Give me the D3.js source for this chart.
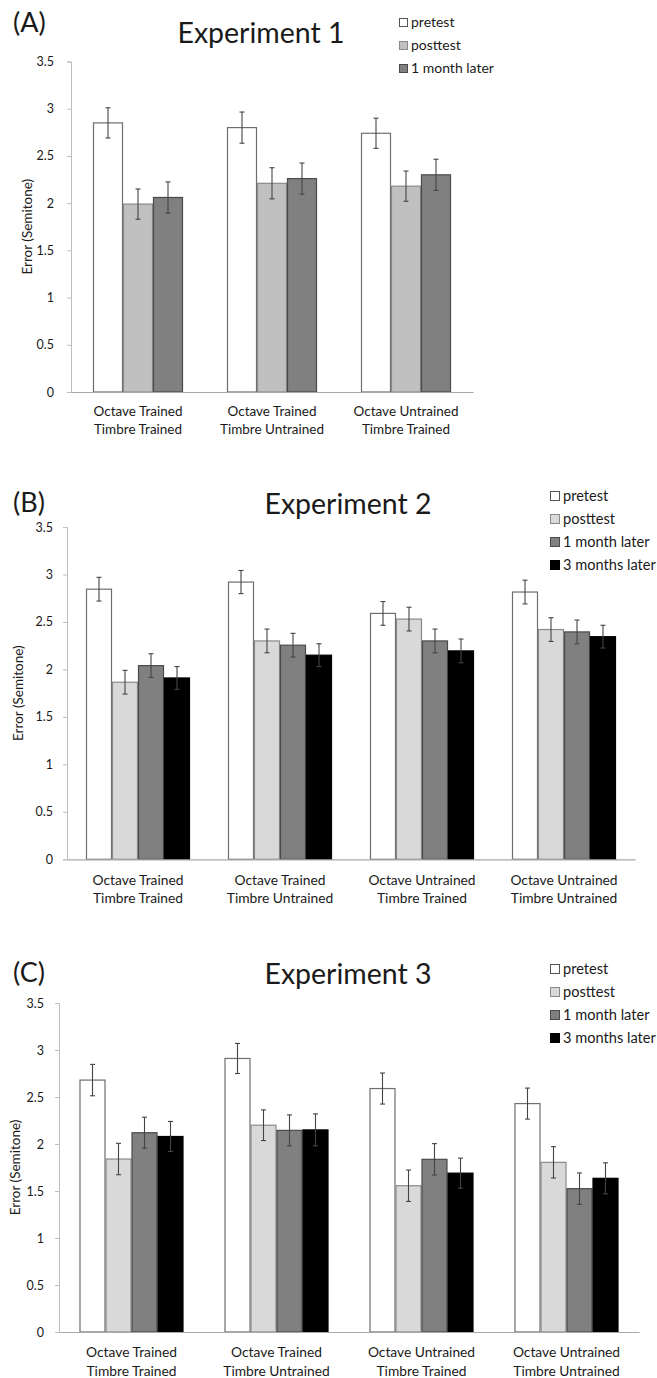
<!DOCTYPE html>
<html>
<head>
<meta charset="utf-8">
<script src="https://cdn.jsdelivr.net/npm/d3@7"></script>
<style>
  html, body { margin: 0; padding: 0; background: #fff; }
  svg { display: block; }
  text { font-family: Lato, "Open Sans", sans-serif; fill: #1a1a1a; }
</style>
</head>
<body>
<svg id="chart" width="657" height="1378"></svg>
<script>
// ---------- DATA ----------
const yTicks = [0, 0.5, 1, 1.5, 2, 2.5, 3, 3.5];

const categories3 = ["Octave Trained\nTimbre Trained", "Octave Trained\nTimbre Untrained", "Octave Untrained\nTimbre Trained"];
const categories4 = ["Octave Trained\nTimbre Trained", "Octave Trained\nTimbre Untrained", "Octave Untrained\nTimbre Trained", "Octave Untrained\nTimbre Untrained"];

const series3 = ["pretest", "posttest", "1 month later"];
const series4 = ["pretest", "posttest", "1 month later", "3 months later"];

// Experiment 1
const exp1_pretest  = [2.85, 2.80, 2.74];
const exp1_posttest = [1.99, 2.21, 2.18];
const exp1_month1   = [2.06, 2.26, 2.30];
const exp1_err_pretest  = [0.16, 0.165, 0.16];
const exp1_err_posttest = [0.16, 0.165, 0.16];
const exp1_err_month1   = [0.165, 0.165, 0.165];

// Experiment 2
const exp2_pretest  = [2.845, 2.92, 2.59, 2.815];
const exp2_posttest = [1.865, 2.30, 2.53, 2.42];
const exp2_month1   = [2.04, 2.255, 2.30, 2.395];
const exp2_month3   = [1.91, 2.15, 2.195, 2.345];
const exp2_err_pretest  = [0.125, 0.122, 0.125, 0.125];
const exp2_err_posttest = [0.125, 0.125, 0.125, 0.125];
const exp2_err_month1   = [0.125, 0.125, 0.125, 0.125];
const exp2_err_month3   = [0.12, 0.12, 0.125, 0.12];

// Experiment 3
const exp3_pretest  = [2.68, 2.91, 2.59, 2.43];
const exp3_posttest = [1.84, 2.20, 1.556, 1.805];
const exp3_month1   = [2.12, 2.145, 1.837, 1.525];
const exp3_month3   = [2.08, 2.15, 1.69, 1.635];
const exp3_err_pretest  = [0.167, 0.16, 0.165, 0.165];
const exp3_err_posttest = [0.167, 0.163, 0.167, 0.167];
const exp3_err_month1   = [0.165, 0.165, 0.167, 0.167];
const exp3_err_month3   = [0.16, 0.17, 0.16, 0.165];

// ---------- STYLE ----------
const fillsA = {"pretest": "#ffffff", "posttest": "#c0c0c0", "1 month later": "#808080"};
const fillsBC = {"pretest": "#ffffff", "posttest": "#d9d9d9", "1 month later": "#808080", "3 months later": "#000000"};
const strokes = {"pretest": "#6e6e6e", "posttest": "#8a8a8a", "1 month later": "#4a4a4a", "3 months later": "#000000"};

const svg = d3.select("#chart");

function drawPanel(cfg) {
  const g = svg.append("g");
  const y = d3.scaleLinear().domain([0, 3.5]).range([cfg.y0, cfg.yTop]);
  const x0 = d3.scaleBand().domain(cfg.categories).range([cfg.xLeft, cfg.xRight])
    .paddingInner(cfg.pad).paddingOuter(cfg.pad / 2);
  const x1 = d3.scaleBand().domain(cfg.series).range([0, x0.bandwidth()]);

  // Y axis
  const yAxis = g.append("g").attr("transform", `translate(${cfg.xLeft},0)`)
    .call(d3.axisLeft(y).tickValues(yTicks).tickSize(4).tickPadding(cfg.tickPad).tickFormat(d => String(d)));
  yAxis.select(".domain").attr("stroke", "#bdbdbd");
  yAxis.selectAll(".tick line").attr("stroke", "#bdbdbd");
  yAxis.selectAll(".tick text").attr("font-size", 12.5).attr("font-family", "Lato, sans-serif").attr("fill", "#1a1a1a");

  // Bars
  const rows = cfg.categories.map((c, i) => ({cat: c, vals: cfg.series.map((s, j) => ({s, v: cfg.values[j][i], e: cfg.errors[j][i]}))}));
  const grp = g.selectAll(".grp").data(rows).join("g").attr("transform", d => `translate(${x0(d.cat)},0)`);
  grp.selectAll("rect").data(d => d.vals).join("rect")
    .attr("x", d => x1(d.s) + 0.5)
    .attr("width", x1.bandwidth() - 1)
    .attr("y", d => y(d.v))
    .attr("height", d => y(0) - y(d.v))
    .attr("fill", d => cfg.fills[d.s])
    .attr("stroke", d => strokes[d.s])
    .attr("stroke-width", 1.2);

  // Error bars
  const eb = grp.selectAll(".eb").data(d => d.vals).join("g").attr("class", "eb")
    .attr("stroke", "#444").attr("stroke-width", 1.1);
  eb.append("line")
    .attr("x1", d => x1(d.s) + x1.bandwidth() / 2).attr("x2", d => x1(d.s) + x1.bandwidth() / 2)
    .attr("y1", d => y(d.v + d.e)).attr("y2", d => y(d.v - d.e));
  eb.append("line")
    .attr("x1", d => x1(d.s) + x1.bandwidth() / 2 - 2.5).attr("x2", d => x1(d.s) + x1.bandwidth() / 2 + 2.5)
    .attr("y1", d => y(d.v + d.e)).attr("y2", d => y(d.v + d.e));
  eb.append("line")
    .attr("x1", d => x1(d.s) + x1.bandwidth() / 2 - 2.5).attr("x2", d => x1(d.s) + x1.bandwidth() / 2 + 2.5)
    .attr("y1", d => y(d.v - d.e)).attr("y2", d => y(d.v - d.e));

  // X axis line
  const xAxis = g.append("g").attr("transform", `translate(0,${y(0)})`)
    .call(d3.axisBottom(x0).tickSize(0).tickFormat(""));
  xAxis.select(".domain").attr("stroke", "#a8a8a8").attr("stroke-width", 1.2);

  // Category labels
  const lab = g.selectAll(".clab").data(cfg.categories).join("text").attr("class", "clab")
    .attr("text-anchor", "middle").attr("font-size", cfg.labSize);
  lab.each(function(d) {
    const parts = d.split("\n");
    d3.select(this).selectAll("tspan").data(parts).join("tspan")
      .attr("x", x0(d) + x0.bandwidth() / 2)
      .attr("y", (p, k) => cfg.labY + k * cfg.labGap)
      .text(p => p);
  });

  // Y axis title
  g.append("text")
    .attr("transform", `translate(${cfg.yTitleX},${(y(0) + y(3.5)) / 2}) rotate(-90)`)
    .attr("text-anchor", "middle").attr("dominant-baseline", "central")
    .attr("font-size", 13.5).text("Error (Semitone)");

  // Title and panel letter
  g.append("text").attr("x", cfg.titleX).attr("y", cfg.titleY).attr("text-anchor", "middle")
    .attr("font-size", 28.5).text(cfg.title);
  g.append("text").attr("x", 13).attr("y", cfg.letterY).attr("font-size", 27).text(cfg.letter);

  // Legend
  const leg = g.selectAll(".leg").data(cfg.series).join("g").attr("class", "leg")
    .attr("transform", (d, i) => `translate(${cfg.legX},${cfg.legY + i * cfg.legGap})`);
  leg.append("rect").attr("x", 0.5).attr("y", -cfg.sq - 0.5).attr("width", cfg.sq).attr("height", cfg.sq)
    .attr("fill", d => cfg.fills[d]).attr("stroke", d => d === "pretest" ? "#555" : strokes[d]).attr("stroke-width", 1);
  leg.append("text").attr("x", cfg.sq + 4).attr("y", 0).attr("font-size", cfg.legSize).text(d => d);
}

drawPanel({
  categories: categories3, series: series3, fills: fillsA,
  values: [exp1_pretest, exp1_posttest, exp1_month1],
  errors: [exp1_err_pretest, exp1_err_posttest, exp1_err_month1],
  xLeft: 71, xRight: 473, pad: 44 / 134, y0: 392, yTop: 61.5, tickPad: 13,
  labY: 416, labGap: 17.5, labSize: 13.5, yTitleX: 27,
  title: "Experiment 1", titleX: 261, titleY: 43, letter: "(A)", letterY: 32,
  legX: 399, legY: 27, legGap: 23, sq: 8, legSize: 14
});

drawPanel({
  categories: categories4, series: series4, fills: fillsBC,
  values: [exp2_pretest, exp2_posttest, exp2_month1, exp2_month3],
  errors: [exp2_err_pretest, exp2_err_posttest, exp2_err_month1, exp2_err_month3],
  xLeft: 67, xRight: 635, pad: 38 / 142, y0: 859.3, yTop: 527, tickPad: 10,
  labY: 885, labGap: 18, labSize: 13.8, yTitleX: 18,
  title: "Experiment 2", titleX: 348, titleY: 514, letter: "(B)", letterY: 512,
  legX: 550, legY: 501, legGap: 23, sq: 9, legSize: 14.6
});

drawPanel({
  categories: categories4, series: series4, fills: fillsBC,
  values: [exp3_pretest, exp3_posttest, exp3_month1, exp3_month3],
  errors: [exp3_err_pretest, exp3_err_posttest, exp3_err_month1, exp3_err_month3],
  xLeft: 59, xRight: 639, pad: 41 / 145, y0: 1332, yTop: 1003, tickPad: 11,
  labY: 1357, labGap: 18.5, labSize: 13.8, yTitleX: 15,
  title: "Experiment 3", titleX: 348, titleY: 984, letter: "(C)", letterY: 982,
  legX: 550, legY: 974, legGap: 23, sq: 9, legSize: 14.6
});
</script>
</body>
</html>
